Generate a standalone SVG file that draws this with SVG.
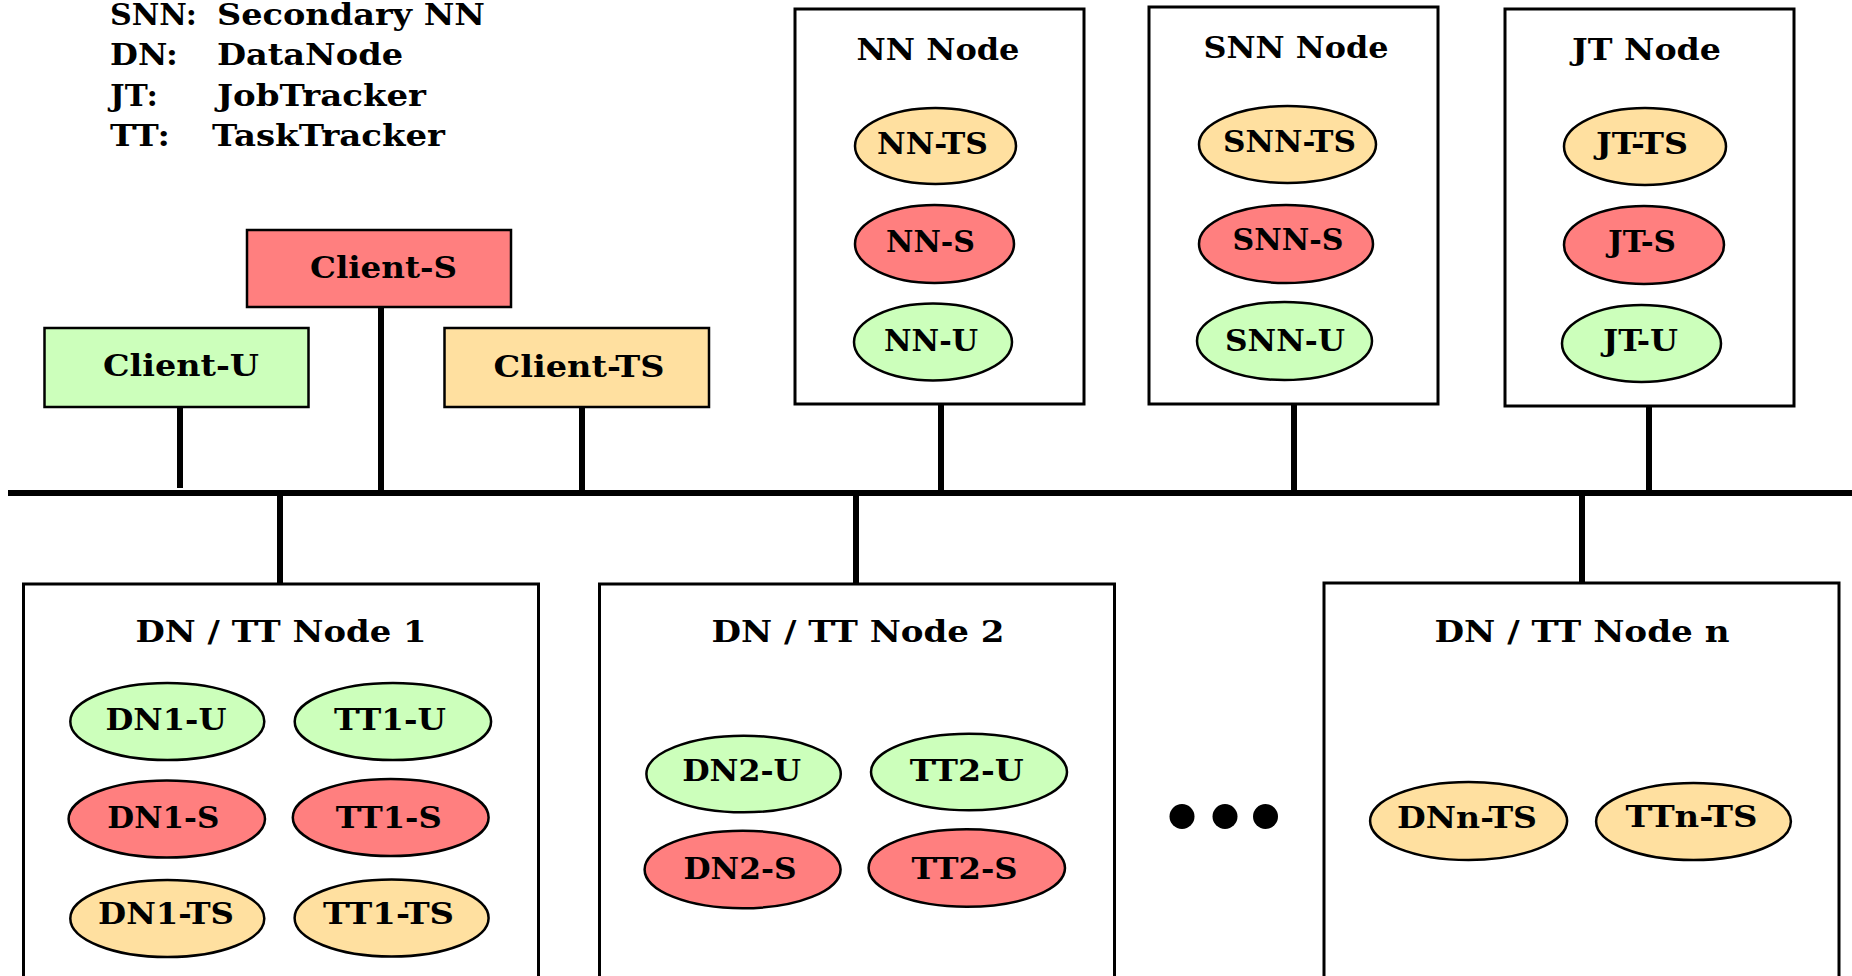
<svg xmlns="http://www.w3.org/2000/svg" width="1852" height="976" viewBox="0 0 1852 976">
<style>
  text { font-family: "DejaVu Serif", "Liberation Serif", serif; font-weight: bold; font-size: 30px; fill: #000; }
  .leg { font-size: 28px; }
  .box { fill: #fff; stroke: #000; stroke-width: 3; }
  .u { fill: #ccffbb; stroke: #000; stroke-width: 2.5; }
  .s { fill: #ff7f7f; stroke: #000; stroke-width: 2.5; }
  .ts { fill: #ffe0a0; stroke: #000; stroke-width: 2.5; }
  .wire { stroke: #000; stroke-width: 6; fill: none; }
</style>
<rect width="1852" height="976" fill="#fff"/>

<g id="legend" class="leg">
  <text x="110" y="25" textLength="87" lengthAdjust="spacingAndGlyphs">SNN:</text>
  <text x="217" y="25" textLength="268" lengthAdjust="spacingAndGlyphs">Secondary NN</text>
  <text x="110" y="65" textLength="68" lengthAdjust="spacingAndGlyphs">DN:</text>
  <text x="217" y="65" textLength="186" lengthAdjust="spacingAndGlyphs">DataNode</text>
  <text x="110" y="106" textLength="48" lengthAdjust="spacingAndGlyphs">JT:</text>
  <text x="217" y="106" textLength="209" lengthAdjust="spacingAndGlyphs">JobTracker</text>
  <text x="110" y="146" textLength="60" lengthAdjust="spacingAndGlyphs">TT:</text>
  <text x="212" y="146" textLength="233" lengthAdjust="spacingAndGlyphs">TaskTracker</text>
</g>

<g id="connectors">
  <line class="wire" x1="8" y1="493" x2="1852" y2="493"/>
  <line class="wire" x1="180" y1="407" x2="180" y2="488"/>
  <line class="wire" x1="381" y1="307" x2="381" y2="493"/>
  <line class="wire" x1="582" y1="407" x2="582" y2="493"/>
  <line class="wire" x1="941" y1="404" x2="941" y2="493"/>
  <line class="wire" x1="1294" y1="404" x2="1294" y2="493"/>
  <line class="wire" x1="1649" y1="406" x2="1649" y2="493"/>
  <line class="wire" x1="280" y1="493" x2="280" y2="584"/>
  <line class="wire" x1="856" y1="493" x2="856" y2="584"/>
  <line class="wire" x1="1582" y1="493" x2="1582" y2="583"/>
</g>

<g id="client-s">
  <rect class="s" x="247" y="230" width="264" height="77"/>
  <text x="383.5" y="278" text-anchor="middle" textLength="147" lengthAdjust="spacingAndGlyphs">Client-S</text>
</g>
<g id="client-u">
  <rect class="u" x="44.5" y="328" width="264" height="79"/>
  <text x="181" y="376" text-anchor="middle" textLength="156" lengthAdjust="spacingAndGlyphs">Client-U</text>
</g>
<g id="client-ts">
  <rect class="ts" x="444.5" y="328" width="264.5" height="79"/>
  <text x="579" y="377" text-anchor="middle" textLength="171" lengthAdjust="spacingAndGlyphs">Client-TS</text>
</g>

<g id="nn-node">
  <rect class="box" x="795" y="9" width="289" height="395"/>
  <text x="938" y="60" text-anchor="middle" textLength="163" lengthAdjust="spacingAndGlyphs">NN Node</text>
  <ellipse class="ts" cx="935.5" cy="146" rx="80.5" ry="38"/>
  <text x="932.5" y="154" text-anchor="middle" textLength="111" lengthAdjust="spacingAndGlyphs">NN-TS</text>
  <ellipse class="s" cx="934.5" cy="244" rx="79.5" ry="39"/>
  <text x="930.5" y="252" text-anchor="middle" textLength="89" lengthAdjust="spacingAndGlyphs">NN-S</text>
  <ellipse class="u" cx="933" cy="342" rx="79" ry="38.5"/>
  <text x="931" y="351" text-anchor="middle" textLength="94" lengthAdjust="spacingAndGlyphs">NN-U</text>
</g>

<g id="snn-node">
  <rect class="box" x="1149" y="7" width="289" height="397"/>
  <text x="1296" y="58" text-anchor="middle" textLength="185" lengthAdjust="spacingAndGlyphs">SNN Node</text>
  <ellipse class="ts" cx="1287.5" cy="144.5" rx="88.5" ry="38.5"/>
  <text x="1289.5" y="152" text-anchor="middle" textLength="133" lengthAdjust="spacingAndGlyphs">SNN-TS</text>
  <ellipse class="s" cx="1286" cy="244" rx="87" ry="39"/>
  <text x="1288" y="250" text-anchor="middle" textLength="111" lengthAdjust="spacingAndGlyphs">SNN-S</text>
  <ellipse class="u" cx="1284.5" cy="341" rx="87.5" ry="39"/>
  <text x="1285" y="351" text-anchor="middle" textLength="120" lengthAdjust="spacingAndGlyphs">SNN-U</text>
</g>

<g id="jt-node">
  <rect class="box" x="1505" y="9" width="289" height="397"/>
  <text x="1646.5" y="60" text-anchor="middle" textLength="149" lengthAdjust="spacingAndGlyphs">JT Node</text>
  <ellipse class="ts" cx="1645" cy="146.5" rx="81" ry="38.5"/>
  <text x="1642" y="154" text-anchor="middle" textLength="92" lengthAdjust="spacingAndGlyphs">JT-TS</text>
  <ellipse class="s" cx="1644" cy="245" rx="80" ry="39"/>
  <text x="1642" y="252" text-anchor="middle" textLength="68" lengthAdjust="spacingAndGlyphs">JT-S</text>
  <ellipse class="u" cx="1641.5" cy="343.5" rx="79.5" ry="38.5"/>
  <text x="1640.5" y="351" text-anchor="middle" textLength="75" lengthAdjust="spacingAndGlyphs">JT-U</text>
</g>

<g id="dn-tt-node-1">
  <rect class="box" x="23.5" y="584" width="515" height="410"/>
  <text x="281" y="642" text-anchor="middle" textLength="291" lengthAdjust="spacingAndGlyphs">DN / TT Node 1</text>
  <ellipse class="u" cx="167.3" cy="721.5" rx="97" ry="38.5"/>
  <text x="166" y="730" text-anchor="middle" textLength="121" lengthAdjust="spacingAndGlyphs">DN1-U</text>
  <ellipse class="u" cx="392.9" cy="721.5" rx="98.2" ry="38.5"/>
  <text x="390" y="730" text-anchor="middle" textLength="112" lengthAdjust="spacingAndGlyphs">TT1-U</text>
  <ellipse class="s" cx="166.8" cy="819" rx="98.2" ry="38.5"/>
  <text x="163.3" y="828" text-anchor="middle" textLength="112" lengthAdjust="spacingAndGlyphs">DN1-S</text>
  <ellipse class="s" cx="390.7" cy="817.5" rx="97.9" ry="38.5"/>
  <text x="388.8" y="828" text-anchor="middle" textLength="106" lengthAdjust="spacingAndGlyphs">TT1-S</text>
  <ellipse class="ts" cx="167.3" cy="918.5" rx="97" ry="38.5"/>
  <text x="166" y="924" text-anchor="middle" textLength="136" lengthAdjust="spacingAndGlyphs">DN1-TS</text>
  <ellipse class="ts" cx="391.6" cy="918" rx="97" ry="38.5"/>
  <text x="388.6" y="924" text-anchor="middle" textLength="131" lengthAdjust="spacingAndGlyphs">TT1-TS</text>
</g>

<g id="dn-tt-node-2">
  <rect class="box" x="599.5" y="584" width="515" height="410"/>
  <text x="858" y="642" text-anchor="middle" textLength="293" lengthAdjust="spacingAndGlyphs">DN / TT Node 2</text>
  <ellipse class="u" cx="743.6" cy="774" rx="97.2" ry="38.3"/>
  <text x="741.7" y="781" text-anchor="middle" textLength="119" lengthAdjust="spacingAndGlyphs">DN2-U</text>
  <ellipse class="u" cx="969" cy="772" rx="98" ry="38.3"/>
  <text x="966.8" y="781" text-anchor="middle" textLength="114" lengthAdjust="spacingAndGlyphs">TT2-U</text>
  <ellipse class="s" cx="742.6" cy="869.5" rx="98" ry="38.8"/>
  <text x="740" y="879" text-anchor="middle" textLength="113" lengthAdjust="spacingAndGlyphs">DN2-S</text>
  <ellipse class="s" cx="966.8" cy="868" rx="98.2" ry="38.8"/>
  <text x="964.6" y="879" text-anchor="middle" textLength="106" lengthAdjust="spacingAndGlyphs">TT2-S</text>
</g>

<g id="ellipsis">
  <circle cx="1182" cy="816.5" r="12.5" fill="#000"/>
  <circle cx="1225" cy="816.5" r="12.5" fill="#000"/>
  <circle cx="1265.5" cy="816.5" r="12.5" fill="#000"/>
</g>

<g id="dn-tt-node-n">
  <rect class="box" x="1324" y="583" width="515" height="410"/>
  <text x="1582" y="642" text-anchor="middle" textLength="295" lengthAdjust="spacingAndGlyphs">DN / TT Node n</text>
  <ellipse class="ts" cx="1468.6" cy="821" rx="98.5" ry="39"/>
  <text x="1467" y="828" text-anchor="middle" textLength="140" lengthAdjust="spacingAndGlyphs">DNn-TS</text>
  <ellipse class="ts" cx="1693.5" cy="821.5" rx="97.4" ry="38.5"/>
  <text x="1691.4" y="827" text-anchor="middle" textLength="132" lengthAdjust="spacingAndGlyphs">TTn-TS</text>
</g>
</svg>
